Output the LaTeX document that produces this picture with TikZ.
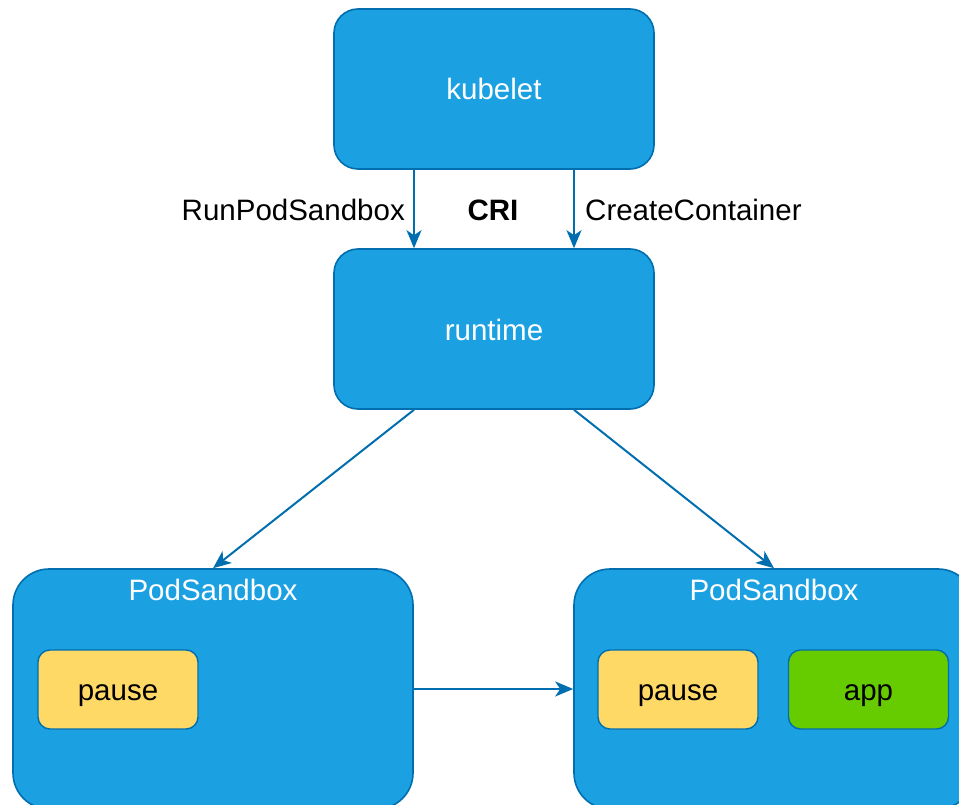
\documentclass[tikz,border=0pt]{standalone}
\usepackage{fontspec}
\setmainfont{Liberation Sans}
\usetikzlibrary{arrows.meta,calc}
\definecolor{boxfill}{HTML}{1BA1E2}
\definecolor{boxline}{HTML}{006EAF}
\definecolor{pausefill}{HTML}{FFD966}
\definecolor{appfill}{HTML}{66CC00}
\tikzset{
  txt/.style={font=\fontsize{29.5}{34}\selectfont, text height=22pt, text depth=0pt},
  bluebox/.style={draw=boxline, fill=boxfill, line width=1.6pt, text=white, txt, inner sep=0pt},
  procbox/.style={bluebox, minimum width=320pt, minimum height=160pt, rounded corners=24pt},
  sandbox/.style={bluebox, minimum width=400pt, minimum height=240pt, rounded corners=36pt},
  ctrbox/.style={draw=boxline, line width=1.4pt, text=black, inner sep=0pt, txt,
    minimum width=160pt, minimum height=79pt, rounded corners=12pt},
  lbl/.style={txt, inner sep=0pt},
  arr/.style={draw=boxline, line width=2pt, -{Stealth[length=18pt,width=15pt,inset=5pt]}}
}
\begin{document}
\begin{tikzpicture}[x=1pt,y=-1pt]
  \useasboundingbox (0,0) rectangle (959,805);
  \clip (0,0) rectangle (959,805);

  % control plane
  \node[procbox] (kubelet) at (494,89) {kubelet};
  \node[procbox] (runtime) at (494,329) {runtime};

  % sandboxes
  \node[sandbox] (lsb) at (213,689) {};
  \node[sandbox] (rsb) at (774,689) {};
  \node[lbl, text=white] (ltitle) at ($(lsb.north)+(0,21)$) {PodSandbox};
  \node[lbl, text=white] (rtitle) at ($(rsb.north)+(0,21)$) {PodSandbox};

  % containers
  \node[ctrbox, fill=pausefill] (lpause) at (118,689.5) {pause};
  \node[ctrbox, fill=pausefill] (rpause) at (678,689.5) {pause};
  \node[ctrbox, fill=appfill] (app) at (868.5,689.5) {app};

  % CRI calls
  \draw[arr] ([xshift=-80pt]kubelet.south) -- ([xshift=-80pt]runtime.north);
  \draw[arr] ([xshift=80pt]kubelet.south) -- ([xshift=80pt]runtime.north);
  \node[lbl, anchor=east] (runlbl) at (405,210) {RunPodSandbox};
  \node[lbl, font=\fontsize{29.5}{34}\selectfont\bfseries] (cri) at (493,210) {CRI};
  \node[lbl, anchor=west] (createlbl) at (585,210) {CreateContainer};

  % runtime to sandboxes
  \draw[arr] ([xshift=-80pt]runtime.south) -- (lsb.north);
  \draw[arr] ([xshift=80pt]runtime.south) -- (rsb.north);
  \draw[arr] (lsb.east) -- (rsb.west);
\end{tikzpicture}
\end{document}
